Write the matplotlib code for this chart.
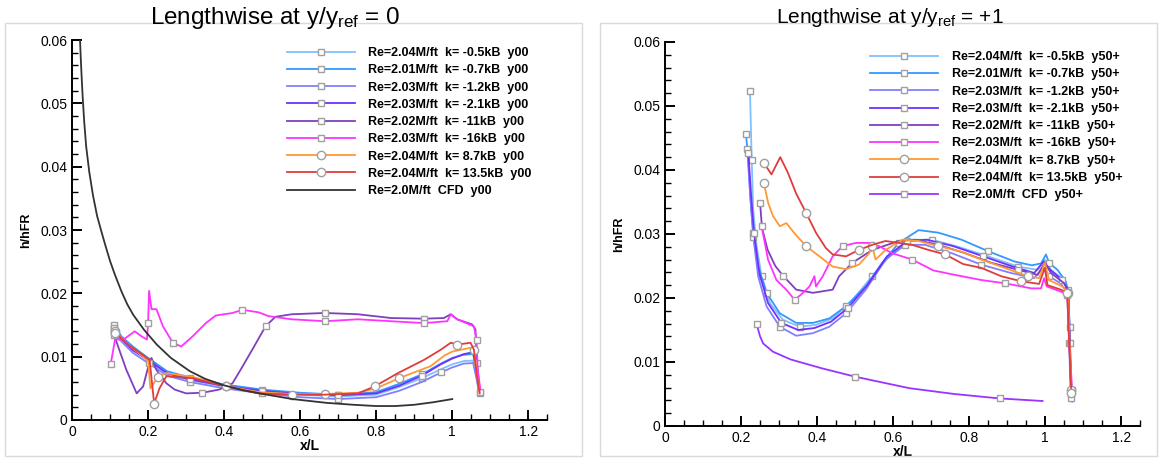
import matplotlib
matplotlib.use('Agg')
import matplotlib.pyplot as plt
from matplotlib.patches import Rectangle
from matplotlib.ticker import MultipleLocator

plt.rcParams['font.family'] = ['Liberation Sans', 'DejaVu Sans']
plt.rcParams['mathtext.fontset'] = 'custom'
plt.rcParams['mathtext.rm'] = 'Liberation Sans'
plt.rcParams['mathtext.it'] = 'Liberation Sans'

colors = ['#80C0FF', '#3399FF', '#8080FF', '#7030FF', '#7F3FBF', '#FF33FF', '#FF9933', '#E03C3C']
k_labels = ['k= -0.5kB', 'k= -0.7kB', 'k= -1.2kB', 'k= -2.1kB', 'k= -11kB', 'k= -16kB', 'k= 8.7kB', 'k= 13.5kB']
re_labels = ['Re=2.04M/ft', 'Re=2.01M/ft', 'Re=2.03M/ft', 'Re=2.03M/ft', 'Re=2.02M/ft', 'Re=2.03M/ft', 'Re=2.04M/ft', 'Re=2.04M/ft']
markers = ['s', 's', 's', 's', 's', 's', 'o', 'o']

# ---- left panel: y/yref = 0 ----
left_x = [
    [0.11, 0.13, 0.16, 0.2, 0.25, 0.31, 0.4, 0.5, 0.6, 0.7, 0.8, 0.86, 0.92, 0.97, 1.0, 1.03, 1.055, 1.064, 1.072],
    [0.11, 0.13, 0.16, 0.2, 0.25, 0.31, 0.4, 0.5, 0.6, 0.7, 0.8, 0.86, 0.92, 0.97, 1.0, 1.03, 1.055, 1.064, 1.072],
    [0.11, 0.13, 0.16, 0.2, 0.25, 0.31, 0.4, 0.5, 0.6, 0.7, 0.8, 0.86, 0.92, 0.97, 1.0, 1.03, 1.055, 1.064, 1.072],
    [0.11, 0.13, 0.16, 0.2, 0.25, 0.31, 0.4, 0.5, 0.6, 0.7, 0.8, 0.86, 0.92, 0.97, 1.0, 1.03, 1.055, 1.064, 1.072],
    [0.11, 0.143, 0.17, 0.187, 0.203, 0.209, 0.222, 0.248, 0.27, 0.3, 0.343, 0.387, 0.422, 0.443, 0.474, 0.509, 0.535,
     0.578, 0.665, 0.752, 0.839, 0.926, 0.978, 0.996, 1.013, 1.052, 1.061, 1.065, 1.072],
    [0.102, 0.113, 0.135, 0.165, 0.183, 0.197, 0.2, 0.2026, 0.209, 0.222, 0.239, 0.265, 0.287, 0.317, 0.352, 0.378,
     0.422, 0.448, 0.491, 0.517, 0.578, 0.665, 0.752, 0.839, 0.926, 0.987, 0.996, 1.013, 1.057, 1.064, 1.067, 1.074],
    [0.113, 0.15, 0.2, 0.206, 0.212, 0.225, 0.248, 0.317, 0.404, 0.49, 0.578, 0.665, 0.752, 0.8, 0.86, 0.943, 0.98,
     1.0, 1.048, 1.058, 1.065, 1.072],
    [0.113, 0.15, 0.204, 0.21, 0.216, 0.23, 0.248, 0.317, 0.404, 0.49, 0.578, 0.665, 0.752, 0.796, 0.857, 0.926, 0.97,
     0.996, 1.013, 1.048, 1.057, 1.065, 1.072],
]
left_y = [
    [0.0146, 0.0128, 0.0112, 0.0094, 0.0073, 0.0063, 0.0053, 0.0046, 0.0040, 0.0037, 0.0040, 0.0052, 0.0066, 0.0080, 0.0088, 0.0093, 0.0094, 0.0070, 0.0040],
    [0.0150, 0.0132, 0.0116, 0.0098, 0.0077, 0.0067, 0.0056, 0.0048, 0.0043, 0.0040, 0.0044, 0.0057, 0.0072, 0.0089, 0.0098, 0.0103, 0.0104, 0.0075, 0.0042],
    [0.0140, 0.0124, 0.0106, 0.0090, 0.0070, 0.0060, 0.0050, 0.0042, 0.0036, 0.0033, 0.0036, 0.0046, 0.0060, 0.0075, 0.0083, 0.0089, 0.0090, 0.0065, 0.0038],
    [0.0145, 0.0128, 0.0110, 0.0095, 0.0074, 0.0064, 0.0054, 0.0046, 0.0041, 0.0039, 0.0042, 0.0054, 0.0070, 0.0088, 0.0097, 0.0104, 0.0107, 0.0078, 0.0044],
    [0.0135, 0.0079, 0.0042, 0.0053, 0.0090, 0.0098, 0.0079, 0.0058, 0.0048, 0.0042, 0.0043, 0.0048, 0.0058, 0.0079,
     0.0111, 0.0148, 0.0163, 0.0167, 0.0169, 0.0167, 0.0161, 0.0160, 0.0161, 0.0167, 0.0159, 0.0151, 0.0143, 0.0090, 0.0048],
    [0.0089, 0.0127, 0.0127, 0.0140, 0.0132, 0.0127, 0.0153, 0.0204, 0.0175, 0.0175, 0.0148, 0.0122, 0.0116, 0.0132,
     0.0153, 0.0165, 0.0169, 0.0174, 0.0170, 0.0164, 0.0159, 0.0156, 0.0159, 0.0156, 0.0153, 0.0156, 0.0167, 0.0159,
     0.0148, 0.0127, 0.0079, 0.0048],
    [0.0140, 0.0118, 0.0094, 0.0050, 0.0055, 0.0068, 0.0074, 0.0068, 0.0054, 0.0044, 0.0041, 0.0041, 0.0043, 0.0050,
     0.0066, 0.0085, 0.0102, 0.0108, 0.0114, 0.0110, 0.0070, 0.0044],
    [0.0138, 0.0118, 0.0095, 0.0060, 0.0026, 0.0050, 0.0069, 0.0066, 0.0053, 0.0042, 0.0040, 0.0040, 0.0042, 0.0053,
     0.0074, 0.0095, 0.0111, 0.0122, 0.0119, 0.0122, 0.0111, 0.0069, 0.0042],
]
cfd_left_x = [0.021, 0.023, 0.025, 0.028, 0.032, 0.037, 0.045, 0.055, 0.066, 0.078, 0.088, 0.1, 0.113, 0.13, 0.145,
              0.161, 0.19, 0.223, 0.26, 0.31, 0.35, 0.398, 0.45, 0.512, 0.58, 0.67, 0.74, 0.8, 0.85, 0.9, 0.95, 1.0]
cfd_left_y = [0.0600, 0.0571, 0.0545, 0.0510, 0.0471, 0.0433, 0.0393, 0.0355, 0.0322, 0.0296, 0.0275, 0.0251,
              0.0229, 0.0203, 0.0183, 0.0166, 0.0142, 0.0119, 0.0098, 0.0077, 0.0065, 0.0055, 0.0047, 0.0040,
              0.0033, 0.0027, 0.0024, 0.0022, 0.0022, 0.0024, 0.0028, 0.0033]

# ---- right panel: y/yref = +1 ----
right_x = [
    [0.2235, 0.228, 0.232, 0.241, 0.254, 0.276, 0.31, 0.354, 0.397, 0.441, 0.493, 0.545, 0.597, 0.65, 0.702, 0.771,
     0.85, 0.928, 0.98, 0.999, 1.015, 1.05, 1.06, 1.064, 1.067, 1.069],
    [0.213, 0.219, 0.225, 0.232, 0.245, 0.267, 0.302, 0.345, 0.389, 0.432, 0.476, 0.528, 0.571, 0.615, 0.667, 0.719,
     0.78, 0.85, 0.919, 0.965, 0.989, 1.002, 1.01, 1.032, 1.054, 1.061, 1.064, 1.069, 1.071],
    [0.2165, 0.2235, 0.232, 0.245, 0.267, 0.302, 0.345, 0.389, 0.432, 0.476, 0.528, 0.58, 0.632, 0.684, 0.754, 0.832,
     0.91, 0.971, 0.993, 1.01, 1.04, 1.058, 1.063, 1.067],
    [0.219, 0.226, 0.234, 0.248, 0.271, 0.306, 0.35, 0.393, 0.437, 0.48, 0.532, 0.584, 0.637, 0.689, 0.758, 0.837,
     0.915, 0.971, 0.996, 1.013, 1.045, 1.06, 1.064, 1.069],
    [0.25, 0.255, 0.27, 0.29, 0.31, 0.345, 0.389, 0.441, 0.458, 0.493, 0.545, 0.615, 0.658, 0.719, 0.789, 0.858,
     0.928, 0.98, 0.999, 1.015, 1.05, 1.061, 1.065, 1.069],
    [0.254, 0.271, 0.293, 0.319, 0.341, 0.363, 0.38, 0.393, 0.397, 0.415, 0.441, 0.467, 0.502, 0.537, 0.563, 0.597,
     0.65, 0.706, 0.763, 0.832, 0.893, 0.963, 0.989, 0.997, 1.004, 1.041, 1.058, 1.063, 1.071],
    [0.26, 0.271, 0.284, 0.302, 0.319, 0.342, 0.371, 0.406, 0.441, 0.476, 0.51, 0.537, 0.545, 0.554, 0.58, 0.624,
     0.667, 0.719, 0.776, 0.832, 0.893, 0.954, 0.984, 0.999, 1.01, 1.045, 1.06, 1.064, 1.069],
    [0.26, 0.28, 0.303, 0.323, 0.345, 0.371, 0.397, 0.423, 0.441, 0.476, 0.51, 0.545, 0.58, 0.615, 0.65, 0.693,
     0.737, 0.784, 0.832, 0.884, 0.937, 0.984, 0.999, 1.006, 1.041, 1.058, 1.063, 1.069],
]
right_y = [
    [0.0524, 0.0416, 0.0338, 0.0281, 0.0234, 0.0192, 0.0166, 0.0155, 0.0158, 0.0168, 0.0197, 0.0234, 0.0270, 0.0291,
     0.0291, 0.0280, 0.0265, 0.0249, 0.0244, 0.0260, 0.0244, 0.0228, 0.0213, 0.0155, 0.0051, 0.0040],
    [0.0456, 0.0416, 0.0354, 0.0302, 0.0250, 0.0208, 0.0176, 0.0161, 0.0161, 0.0168, 0.0187, 0.0218, 0.0255, 0.0286,
     0.0306, 0.0302, 0.0291, 0.0273, 0.0257, 0.0251, 0.0254, 0.0268, 0.0255, 0.0244, 0.0226, 0.0208, 0.0155, 0.0051, 0.0038],
    [0.0432, 0.0364, 0.0296, 0.0234, 0.0187, 0.0155, 0.0141, 0.0145, 0.0155, 0.0176, 0.0213, 0.0260, 0.0283, 0.0283,
     0.0270, 0.0252, 0.0239, 0.0231, 0.0247, 0.0234, 0.0223, 0.0208, 0.0129, 0.0046],
    [0.0427, 0.0364, 0.0302, 0.0239, 0.0192, 0.0161, 0.0150, 0.0153, 0.0163, 0.0184, 0.0220, 0.0265, 0.0289, 0.0291,
     0.0281, 0.0265, 0.0249, 0.0239, 0.0257, 0.0244, 0.0228, 0.0213, 0.0129, 0.0043],
    [0.0349, 0.0310, 0.0275, 0.0250, 0.0235, 0.0213, 0.0208, 0.0213, 0.0234, 0.0255, 0.0275, 0.0289, 0.0291, 0.0283,
     0.0270, 0.0255, 0.0244, 0.0236, 0.0255, 0.0239, 0.0223, 0.0208, 0.0129, 0.0043],
    [0.0312, 0.0260, 0.0228, 0.0213, 0.0197, 0.0208, 0.0218, 0.0234, 0.0218, 0.0234, 0.0265, 0.0281, 0.0286, 0.0286,
     0.0281, 0.0270, 0.0260, 0.0243, 0.0236, 0.0228, 0.0223, 0.0215, 0.0215, 0.0231, 0.0218, 0.0210, 0.0205, 0.0129, 0.0056],
    [0.0380, 0.0349, 0.0328, 0.0312, 0.0317, 0.0300, 0.0281, 0.0265, 0.0249, 0.0245, 0.0252, 0.0270, 0.0281, 0.0260,
     0.0275, 0.0291, 0.0289, 0.0281, 0.0273, 0.0260, 0.0247, 0.0234, 0.0231, 0.0255, 0.0228, 0.0218, 0.0208, 0.0129, 0.0056],
    [0.0411, 0.0393, 0.0420, 0.0396, 0.0363, 0.0333, 0.0302, 0.0278, 0.0268, 0.0265, 0.0275, 0.0283, 0.0289, 0.0286,
     0.0283, 0.0275, 0.0268, 0.0253, 0.0247, 0.0234, 0.0226, 0.0222, 0.0247, 0.0220, 0.0213, 0.0208, 0.0129, 0.0051],
]
cfd_right_x = [0.241, 0.25, 0.258, 0.284, 0.33, 0.413, 0.5, 0.643, 0.76, 0.88, 0.993]
cfd_right_y = [0.0159, 0.0140, 0.0129, 0.0116, 0.0104, 0.0090, 0.0077, 0.0059, 0.0050, 0.0043, 0.0039]

fig = plt.figure(figsize=(11.62, 4.61), dpi=100)

# light panel frames
fig.patches.append(Rectangle((0.004, 0.01), 0.497, 0.94, transform=fig.transFigure,
                             fill=False, edgecolor='#D9D9D9', lw=1))
fig.patches.append(Rectangle((0.516, 0.01), 0.48, 0.94, transform=fig.transFigure,
                             fill=False, edgecolor='#D9D9D9', lw=1))

ax1 = fig.add_axes([0.062, 0.089, 0.409, 0.824])
ax2 = fig.add_axes([0.5723, 0.076, 0.409, 0.833])


def style(ax):
    ax.set_xlim(0, 1.25)
    ax.set_ylim(0, 0.06)
    ax.spines['top'].set_visible(False)
    ax.spines['right'].set_visible(False)
    ax.spines['left'].set_linewidth(1.4)
    ax.spines['bottom'].set_linewidth(1.4)
    ax.set_xticks([0, 0.2, 0.4, 0.6, 0.8, 1, 1.2])
    ax.set_xticklabels(['0', '0.2', '0.4', '0.6', '0.8', '1', '1.2'])
    ax.set_yticks([0, 0.01, 0.02, 0.03, 0.04, 0.05, 0.06])
    ax.set_yticklabels(['0', '0.01', '0.02', '0.03', '0.04', '0.05', '0.06'])
    ax.xaxis.set_minor_locator(MultipleLocator(0.05))
    ax.yaxis.set_minor_locator(MultipleLocator(0.002))
    ax.tick_params(which='major', direction='in', length=7, width=1.4, labelsize=10)
    ax.tick_params(which='minor', direction='in', length=4, width=1)
    ax.set_xlabel('x/L', fontsize=10, fontweight='bold', labelpad=0)
    ax.set_ylabel('h/hFR', fontsize=9, fontweight='bold', labelpad=6)


for ax, xs, ys, cx, cy, suffix, cfd_color in [
        (ax1, left_x, left_y, cfd_left_x, cfd_left_y, 'y00', '#333333'),
        (ax2, right_x, right_y, cfd_right_x, cfd_right_y, 'y50+', '#9933FF')]:
    style(ax)
    for i in range(8):
        ax.plot(xs[i], ys[i], color=colors[i], lw=1.3, marker=markers[i],
                markersize=5 if markers[i] == 's' else 6, mfc='white', mec='#A0A0A0', mew=1,
                markevery=0.14, label=f'{re_labels[i]}  {k_labels[i]}  {suffix}')
    if suffix == 'y00':
        ax.plot(cx, cy, color=cfd_color, lw=1.3, label=f'Re=2.0M/ft  CFD  {suffix}')
    else:
        ax.plot(cx, cy, color=cfd_color, lw=1.3, marker='s', markersize=5, mfc='white', mec='#A0A0A0',
                mew=1, markevery=0.2, label=f'Re=2.0M/ft  CFD  {suffix}')

leg_kw = dict(loc='upper left', bbox_transform=fig.transFigure, frameon=False, borderaxespad=0, borderpad=0,
              handlelength=5.4, handletextpad=1.1, labelspacing=0.42, prop={'size': 9, 'weight': 'bold'})
ax1.legend(bbox_to_anchor=(0.247, 0.898), **leg_kw)
ax2.legend(bbox_to_anchor=(0.749, 0.889), **leg_kw)

fig.text(0.237, 0.962, 'Lengthwise at y/y$_{\\mathrm{ref}}$ = 0', ha='center', va='center', fontsize=17.5)
fig.text(0.766, 0.962, 'Lengthwise at y/y$_{\\mathrm{ref}}$ = +1', ha='center', va='center', fontsize=15)

fig.savefig('out.png', dpi=100)
